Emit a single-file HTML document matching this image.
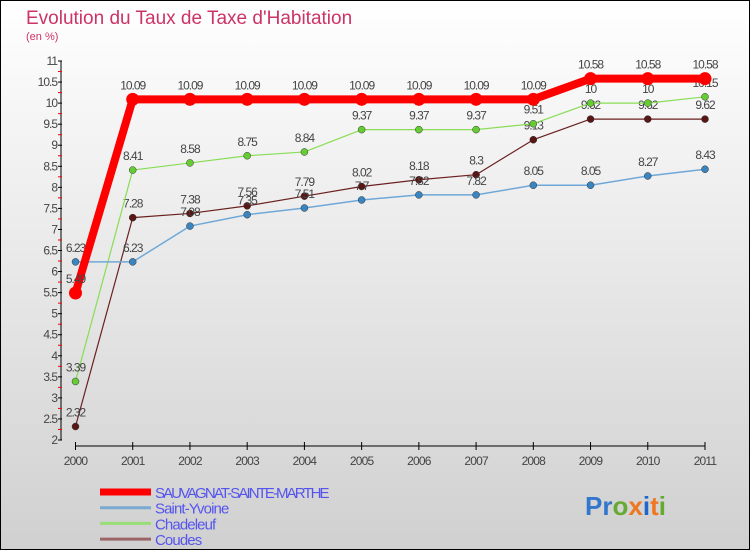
<!DOCTYPE html>
<html><head><meta charset="utf-8"><style>
body{margin:0;}
svg{display:block;font-family:"Liberation Sans",sans-serif;}
</style></head><body>
<svg id="c" width="750" height="550" xmlns="http://www.w3.org/2000/svg">
<defs><linearGradient id="bg" x1="0" y1="0" x2="0" y2="1"><stop offset="0" stop-color="#ffffff"/><stop offset="1" stop-color="#d0d0d0"/></linearGradient></defs>
<rect x="0.5" y="0.5" width="749" height="549" fill="url(#bg)" stroke="#000"/>
<text x="26" y="24" font-size="19" fill="#cc3366">Evolution du Taux de Taxe d'Habitation</text>
<text x="26" y="40" font-size="11" fill="#cc3366">(en %)</text>
<g id="axes"></g><g id="series"></g><g id="legend"></g>
<text x="585" y="515" font-size="26" font-weight="bold"><tspan fill="#3377cc">Pr</tspan><tspan fill="#66aa33">o</tspan><tspan fill="#ee7722">x</tspan><tspan fill="#2266cc">i</tspan><tspan fill="#ee7722">t</tspan><tspan fill="#66aa33">i</tspan></text>
</svg>
<script>
const years=["2000","2001","2002","2003","2004","2005","2006","2007","2008","2009","2010","2011"];
const sauvagnat=[5.49,10.09,10.09,10.09,10.09,10.09,10.09,10.09,10.09,10.58,10.58,10.58];
const saintYvoine=[6.23,6.23,7.08,7.35,7.51,7.7,7.82,7.82,8.05,8.05,8.27,8.43];
const chadeleuf=[3.39,8.41,8.58,8.75,8.84,9.37,9.37,9.37,9.51,10,10,10.15];
const coudes=[2.32,7.28,7.38,7.56,7.79,8.02,8.18,8.3,9.13,9.62,9.62,9.62];
const yTicks=[2,2.5,3,3.5,4,4.5,5,5.5,6,6.5,7,7.5,8,8.5,9,9.5,10,10.5,11];
const seriesNames=["SAUVAGNAT-SAINTE-MARTHE","Saint-Yvoine","Chadeleuf","Coudes"];
const NS="http://www.w3.org/2000/svg";
const X=i=>75.5+i*(705-75.5)/11;
const Y=v=>440-(v-2)*(440-61)/9;
function mk(tag,attrs,parent){const e=document.createElementNS(NS,tag);for(const k in attrs)e.setAttribute(k,attrs[k]);parent.appendChild(e);return e;}
const ax=document.getElementById('axes');
let e=mk('line',{x1:61,y1:Y(11),x2:61,y2:Y(2),stroke:'#000'},ax);


e=mk('line',{x1:X(0),y1:446,x2:X(11),y2:446,stroke:'#000'},ax);


yTicks.forEach((t,i)=>{
  mk('line',{x1:58,y1:Y(t),x2:62,y2:Y(t),stroke:'#000'},ax);
  if(i<yTicks.length-1) mk('line',{x1:58,y1:Y(t+0.25),x2:62,y2:Y(t+0.25),stroke:'#e00'},ax);
  const tx=mk('text',{x:57,y:Y(t)+4,'font-size':12,fill:'#444','text-anchor':'end','letter-spacing':'-1'},ax);
  tx.textContent=String(t);
  
  
});
years.forEach((yr,i)=>{
  mk('line',{x1:X(i),y1:442,x2:X(i),y2:450,stroke:'#000'},ax);
  const tx=mk('text',{x:X(i),y:465,'font-size':12,fill:'#444','text-anchor':'middle','letter-spacing':'-0.8'},ax);
  tx.textContent=yr;
  
  
});
const sg=document.getElementById('series');
const specs=[[coudes,'#6b2020','#5a1515',1.2,3.5],[chadeleuf,'#88dd55','#66cc33',1.2,3.5],[saintYvoine,'#6fa8d8','#3a85c0',1.5,3.5],[sauvagnat,'#ff0000','#ff0000',8,6.5]];
const order=[3,2,1,0];
specs.forEach((s,k)=>{
  const [vals,lc,pc,w,r]=s;
  const p=mk('polyline',{points:vals.map((v,i)=>X(i)+','+Y(v)).join(' '),fill:'none',stroke:lc,'stroke-width':w,'stroke-linejoin':'round'},sg);
  
  
  vals.forEach((v,i)=>{
    const c=mk('circle',{cx:X(i),cy:Y(v),r:r,fill:pc,stroke:w>2?'none':'#333','stroke-width':0.5},sg);
    
    
    const t=mk('text',{x:X(i),y:Y(v)-10,'font-size':12,fill:'#444','text-anchor':'middle','letter-spacing':'-1'},sg);
    t.textContent=String(v);
    
    
  });
});
const lg=document.getElementById('legend');
const lcol=[['#ff0000',7],['#7aaad0',3],['#99dd77',3],['#9a6666',3]];
seriesNames.forEach((n,i)=>{
  const y=492+i*15.7;
  const l=mk('line',{x1:100,y1:y,x2:151,y2:y,stroke:lcol[i][0],'stroke-width':lcol[i][1]},lg);
  
  
  const t=mk('text',{x:155,y:y+6,'font-size':15,fill:'#5555ee','letter-spacing':'-0.9'},lg);
  if(n.length>12)t.setAttribute('textLength',n.length*7.55);
  t.textContent=n;
  
  
});
</script>
</body></html>
